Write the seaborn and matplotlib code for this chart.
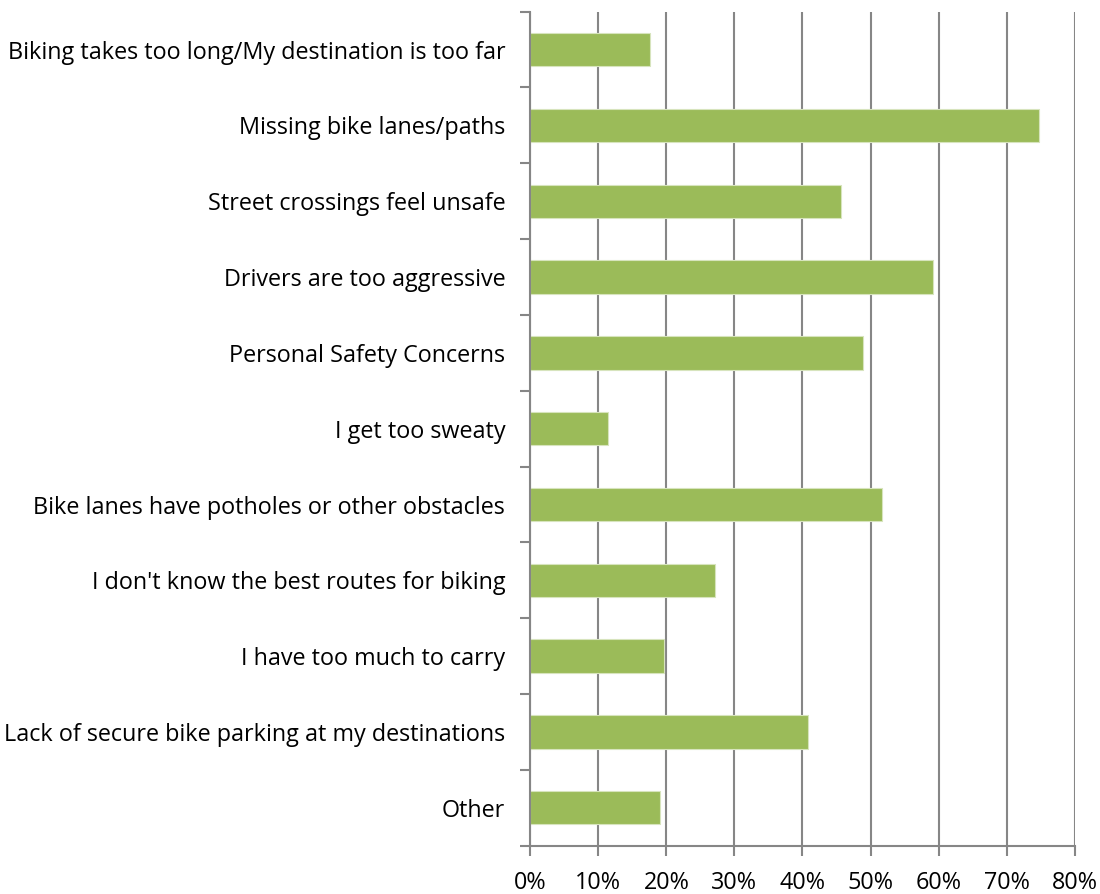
import matplotlib
matplotlib.use("Agg")
import matplotlib.pyplot as plt
from matplotlib.ticker import FixedLocator, PercentFormatter
import seaborn as sns
import pandas as pd

categories = [
    "Biking takes too long/My destination is too far",
    "Missing bike lanes/paths",
    "Street crossings feel unsafe",
    "Drivers are too aggressive",
    "Personal Safety Concerns",
    "I get too sweaty",
    "Bike lanes have potholes or other obstacles",
    "I don't know the best routes for biking",
    "I have too much to carry",
    "Lack of secure bike parking at my destinations",
    "Other",
]
shares = [17.6, 74.7, 45.6, 59.2, 48.9, 11.5, 51.7, 27.2, 19.6, 40.8, 19.0]
xticks = [0, 10, 20, 30, 40, 50, 60, 70, 80]

df = pd.DataFrame({"reason": categories, "share": shares})

sns.set_theme(style="white")
plt.rcParams["font.family"] = ["Open Sans", "DejaVu Sans"]

fig = plt.figure(figsize=(11, 8.94), dpi=100)
ax = fig.add_axes([0.482, 0.054, 0.495, 0.933])

grid_color = "#868686"
ax.set_axisbelow(True)
ax.xaxis.grid(True, color=grid_color, linewidth=1.5)

sns.barplot(data=df, x="share", y="reason", orient="h", color="#9BBB59",
            saturation=1, width=0.44, edgecolor="#D7E4BD", linewidth=0.8, ax=ax)

ax.set_xlim(0, 80)
ax.set_ylim(len(categories) - 0.5, -0.5)
ax.set_xticks(xticks)
ax.xaxis.set_major_formatter(PercentFormatter(decimals=0))
ax.set_xlabel("")
ax.set_ylabel("")

# category boundaries carry the tick marks on the value axis
ax.yaxis.set_minor_locator(FixedLocator([i + 0.5 for i in range(-1, len(categories))]))
ax.tick_params(axis="y", which="major", length=0, pad=18, labelsize=16.8, labelcolor="black")
ax.tick_params(axis="y", which="minor", left=True, length=7, width=1.5, color=grid_color)
ax.tick_params(axis="x", which="major", bottom=True, length=7, width=1.5,
               color=grid_color, labelsize=16.8, labelcolor="black", pad=11)

for side in ["top", "right"]:
    ax.spines[side].set_visible(False)
for side in ["left", "bottom"]:
    ax.spines[side].set_color(grid_color)
    ax.spines[side].set_linewidth(1.5)

fig.savefig("out.png", dpi=100, facecolor="white")
